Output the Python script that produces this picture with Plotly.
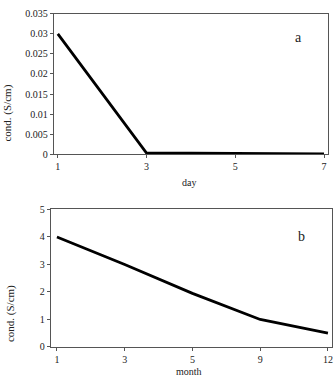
import plotly.graph_objects as go

W, H = 336, 383

days = [1, 3, 5, 7]
cond_day = [0.030, 0.0003, 0.0002, 0.0001]
day_ticks = [1, 3, 5, 7]

months = ["1", "3", "5", "9", "12"]
cond_month = [4.0, 3.0, 1.95, 1.0, 0.5]

y1_ticks = [0, 0.005, 0.01, 0.015, 0.02, 0.025, 0.03, 0.035]
y1_labels = ["0", "0.005", "0.01", "0.015", "0.02", "0.025", "0.03", "0.035"]
y2_ticks = [0, 1, 2, 3, 4, 5]

font = dict(family="Liberation Serif", size=10, color="#222")

fig = go.Figure()
fig.add_trace(go.Scatter(x=days, y=cond_day, mode="lines",
                         line=dict(color="black", width=2.8), xaxis="x", yaxis="y"))
fig.add_trace(go.Scatter(x=list(range(len(months))), y=cond_month, mode="lines",
                         line=dict(color="black", width=2.8), xaxis="x2", yaxis="y2"))

def px(x):
    return x / W

def py(y):
    return (H - y) / H

axcommon = dict(showgrid=False, zeroline=False, showline=True, linecolor="#555",
                linewidth=1, mirror=True, ticks="outside", ticklen=3, tickcolor="#555",
                tickfont=font)

fig.update_layout(
    width=W, height=H, margin=dict(l=0, r=0, t=0, b=0),
    paper_bgcolor="white", plot_bgcolor="white", showlegend=False,
    font=font,
    xaxis=dict(domain=[px(54), px(329)], range=[0.91, 7.09], tickvals=day_ticks,
               anchor="y", **axcommon),
    yaxis=dict(domain=[py(153), py(8)], range=[0, 0.035], tickvals=y1_ticks,
               ticktext=y1_labels, anchor="x", **axcommon),
    xaxis2=dict(domain=[px(51), px(333)], range=[-0.09, 4.06],
                tickvals=list(range(len(months))), ticktext=months, anchor="y2", **axcommon),
    yaxis2=dict(domain=[py(352), py(210)], range=[0, 5], tickvals=y2_ticks,
                anchor="x2", **axcommon),
)

ann = [
    dict(text="a", x=px(299), y=py(33), size=14),
    dict(text="b", x=px(302), y=py(238), size=14),
    dict(text="day", x=px(190), y=py(182), size=10),
    dict(text="month", x=px(190), y=py(377), size=10),
]
for a in ann:
    fig.add_annotation(text=a["text"], x=a["x"], y=a["y"], xref="paper", yref="paper",
                       showarrow=False, xanchor="center", yanchor="middle",
                       font=dict(family="Liberation Serif", size=a["size"], color="#222"))
for xx, yy in [(8, 110), (10, 317)]:
    fig.add_annotation(text="cond. (S/cm)", x=px(xx), y=py(yy),
                       xref="paper", yref="paper", showarrow=False, textangle=-90,
                       xanchor="center", yanchor="middle",
                       font=dict(family="Liberation Serif", size=11, color="#222"))

fig.write_html("out.html")
